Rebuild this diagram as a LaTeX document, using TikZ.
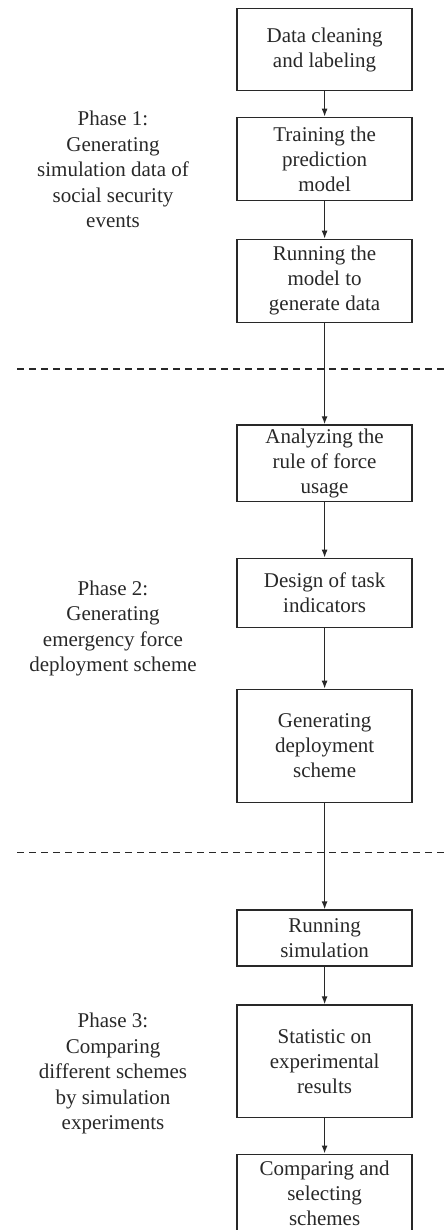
\documentclass[tikz,border=0pt]{standalone}
\usepackage{fontspec}
\setmainfont{Liberation Serif}
\usetikzlibrary{arrows.meta}
\definecolor{ink}{RGB}{40,40,40}
\begin{document}
\begin{tikzpicture}[x=1pt,y=-1pt,
  box/.style={draw=ink, text=ink, line width=1.3pt, minimum width=175pt, inner sep=0pt, align=center, font=\fontsize{21}{25}\selectfont},
  phase/.style={text=ink, align=center, font=\fontsize{21}{25.5}\selectfont, inner sep=0pt},
  link/.style={draw=ink, line width=1.3pt, -{Latex[length=8pt,width=6pt]}},
  sep/.style={draw=ink, line width=1.2pt, dash pattern=on 7pt off 5pt}]
\useasboundingbox (0,0) rectangle (447,1230);
\clip (0,0) rectangle (447,1230);
% boxes
\node[box, minimum height=82.4pt] (b1) at (324.6,49.5) {Data cleaning\\and labeling};
\node[box, minimum height=83.4pt] (b2) at (324.6,159) {Training the\\prediction\\model};
\node[box, minimum height=83pt] (b3) at (324.6,280.8) {Running the\\model to\\generate data};
\node[box, minimum height=76.7pt] (b4) at (324.6,463.3) {Analyzing the\\rule of force\\usage};
\node[box, minimum height=69pt] (b5) at (324.6,592.8) {Design of task\\indicators};
\node[box, minimum height=113pt] (b6) at (324.6,745.8) {Generating\\deployment\\scheme};
\node[box, minimum height=56pt] (b7) at (324.6,938) {Running\\simulation};
\node[box, minimum height=112.7pt] (b8) at (324.6,1061.3) {Statistic on\\experimental\\results};
\node[box, minimum height=77.7pt] (b9) at (324.6,1193) {Comparing and\\selecting\\schemes};
% phase labels
\node[phase] (p1) at (113,169.5) {Phase 1:\\Generating\\simulation data of\\social security\\events};
\node[phase] (p2) at (113,628.5) {Phase 2:\\Generating\\emergency force\\deployment scheme};
\node[phase] (p3) at (113,1073.5) {Phase 3:\\Comparing\\different schemes\\by simulation\\experiments};
% separators
\coordinate (d1l) at (17,369);
\coordinate (d1r) at (447,369);
\coordinate (d2l) at (17,852.3);
\coordinate (d2r) at (447,852.3);
\draw[sep] (d1l) -- (d1r);
\draw[sep] (d2l) -- (d2r);
% connectors
\draw[link] (b1) -- (b2);
\draw[link] (b2) -- (b3);
\draw[link] (b3) -- (b4);
\draw[link] (b4) -- (b5);
\draw[link] (b5) -- (b6);
\draw[link] (b6) -- (b7);
\draw[link] (b7) -- (b8);
\draw[link] (b8) -- (b9);
\end{tikzpicture}
\end{document}
